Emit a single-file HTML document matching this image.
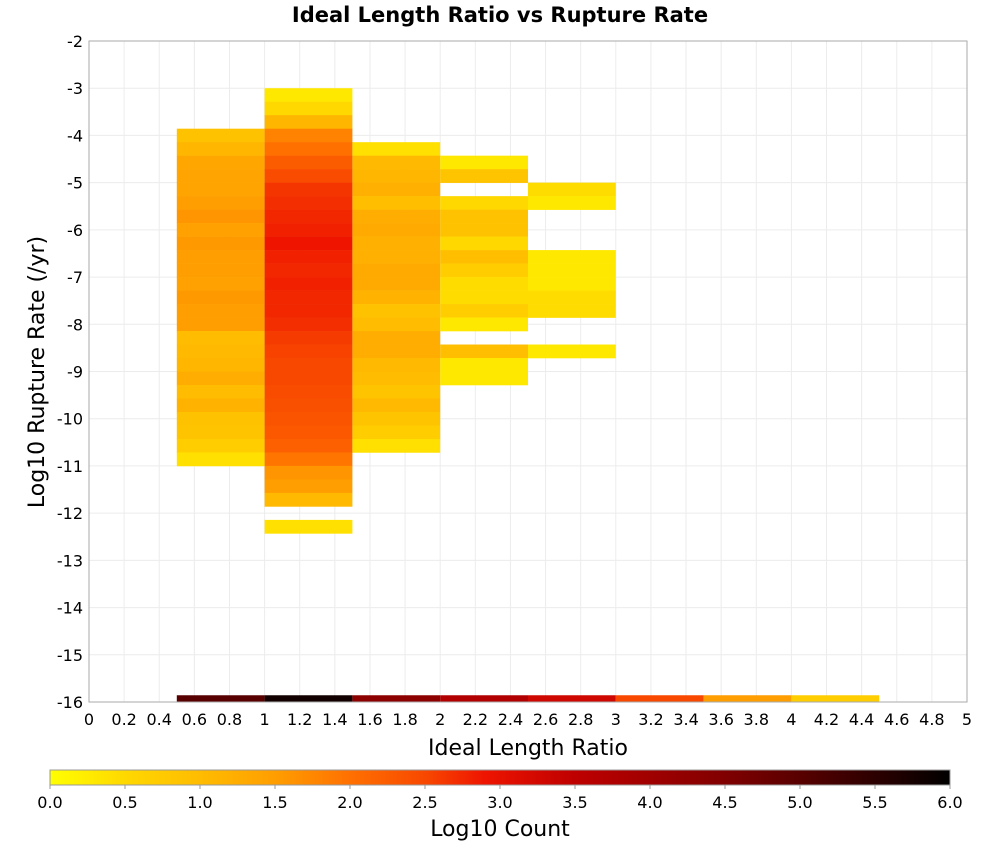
<!DOCTYPE html>
<html><head><meta charset="utf-8"><style>
body{margin:0;background:#fff;font-family:"DejaVu Sans","Liberation Sans",sans-serif}
svg text{font-family:"DejaVu Sans","Liberation Sans",sans-serif}
</style></head><body>
<svg id="c" width="1000" height="850"></svg>
<script>
const xBinStarts=[0.5,1.0,1.5,2.0,2.5];
const rowTop=-3, rowH=2/7;
// values per row index (0 = top row starting at -3), null = empty
const col05={3:0.9,4:1.1,5:1.35,6:1.4,7:1.4,8:1.5,9:1.6,10:1.45,11:1.55,12:1.5,13:1.5,14:1.45,15:1.55,16:1.5,17:1.5,18:1.0,19:1.05,20:1.1,21:1.25,22:1.0,23:1.15,24:0.9,25:0.85,26:0.7,27:0.4};
const col10={0:0.3,1:0.5,2:1.1,3:1.8,4:2.0,5:2.25,6:2.45,7:2.65,8:2.7,9:2.75,10:2.8,11:2.9,12:2.8,13:2.75,14:2.8,15:2.75,16:2.75,17:2.7,18:2.6,19:2.55,20:2.5,21:2.5,22:2.45,23:2.4,24:2.35,25:2.3,26:2.2,27:1.95,28:1.6,29:1.5,30:1.05,32:0.4};
const col15={4:0.4,5:1.05,6:1.1,7:1.2,8:0.95,9:1.25,10:1.3,11:1.2,12:1.2,13:1.3,14:1.3,15:1.15,16:0.9,17:1.0,18:1.25,19:1.25,20:1.05,21:1.0,22:0.85,23:1.05,24:0.85,25:0.7,26:0.4};
const col20={5:0.3,6:0.85,8:0.5,9:0.9,10:0.9,11:0.5,12:0.95,13:0.7,14:0.45,15:0.45,16:0.7,17:0.3,19:0.95,20:0.3,21:0.3};
const col25={7:0.45,8:0.3,12:0.3,13:0.3,14:0.3,15:0.45,16:0.45,19:0.3};
const bottomXs=[0.5,1.0,1.5,2.0,2.5,3.0,3.5,4.0];
const bottomVals=[5.0,5.8,4.3,3.7,3.3,2.5,1.5,0.7];
const xTicks=[0,0.2,0.4,0.6,0.8,1,1.2,1.4,1.6,1.8,2,2.2,2.4,2.6,2.8,3,3.2,3.4,3.6,3.8,4,4.2,4.4,4.6,4.8,5];
const yTicks=[-2,-3,-4,-5,-6,-7,-8,-9,-10,-11,-12,-13,-14,-15,-16];
const cbTicks=["0.0","0.5","1.0","1.5","2.0","2.5","3.0","3.5","4.0","4.5","5.0","5.5","6.0"];

const L=89,R=967,T=41,B=702;
const X=v=>L+(v-0)/5*(R-L);
const Y=v=>T+(-2-v)/14*(B-T);
const stops=[[0,[255,255,0]],[0.3,[255,232,0]],[0.5,[255,216,0]],[1.0,[255,188,0]],[1.5,[255,158,0]],[2.0,[255,112,0]],[2.5,[248,72,0]],[2.9,[238,20,0]],[3.5,[190,0,0]],[4.0,[160,0,0]],[4.5,[128,0,0]],[5.0,[88,0,0]],[6.0,[0,0,0]]];
function col(v){for(let i=1;i<stops.length;i++){if(v<=stops[i][0]){const[a,ca]=stops[i-1],[b,cb]=stops[i];const t=(v-a)/(b-a);return`rgb(${ca.map((c,k)=>Math.round(c+(cb[k]-c)*t)).join(',')})`;}}return'rgb(0,0,0)';}
const svg=document.getElementById('c');const NS='http://www.w3.org/2000/svg';
function mk(tag,attrs,parent){const e=document.createElementNS(NS,tag);for(const k in attrs)e.setAttribute(k,attrs[k]);(parent||svg).appendChild(e);return e;}
// grid
const g=mk('g',{});


xTicks.forEach(t=>{mk('line',{x1:X(t),x2:X(t),y1:T,y2:B,stroke:'#ececec','stroke-width':1},g);});
yTicks.forEach(t=>{mk('line',{x1:L,x2:R,y1:Y(t),y2:Y(t),stroke:'#ececec','stroke-width':1},g);});
// cells
const cols=[col05,col10,col15,col20,col25];
const cg=mk('g',{});


cols.forEach((c,ci)=>{const x0=xBinStarts[ci];for(const k in c){const top=rowTop-(+k)*rowH,bot=top-rowH;
const r=mk('rect',{x:X(x0),y:Y(top),width:X(x0+0.5)-X(x0),height:Y(bot)-Y(top)+0.3,fill:col(c[k])},cg);

}});
bottomXs.forEach((x0,i)=>{const r=mk('rect',{x:X(x0),y:Y(-16+rowH/2),width:X(x0+0.5)-X(x0),height:Y(-16)-Y(-16+rowH/2),fill:col(bottomVals[i])},cg);

});
// frame
const fr=mk('rect',{x:L,y:T,width:R-L,height:B-T,fill:'none',stroke:'#aaa','stroke-width':1});


// ticks
xTicks.forEach(t=>{const e=mk('text',{x:X(t),y:725,'text-anchor':'middle','font-size':16,fill:'#000'});e.textContent=String(t);

});
yTicks.forEach(t=>{const e=mk('text',{x:83,y:Y(t)+6,'text-anchor':'end','font-size':16,fill:'#000'});e.textContent=String(t);

});
// titles
let e=mk('text',{x:500,y:22,'text-anchor':'middle','font-size':21,'font-weight':'bold'});e.textContent='Ideal Length Ratio vs Rupture Rate';


e=mk('text',{x:528,y:755,'text-anchor':'middle','font-size':22});e.textContent='Ideal Length Ratio';


e=mk('text',{x:44,y:372,'text-anchor':'middle','font-size':22,transform:'rotate(-90 44 372)'});e.textContent='Log10 Rupture Rate (/yr)';


// colorbar
const defs=mk('defs',{});const lg=mk('linearGradient',{id:'cb',x1:0,x2:1,y1:0,y2:0},defs);
stops.forEach(s=>{mk('stop',{offset:(s[0]/6*100)+'%','stop-color':col(s[0])},lg);});
e=mk('rect',{x:50,y:770,width:900,height:15,fill:'url(#cb)',stroke:'#999','stroke-width':1});


cbTicks.forEach((t,i)=>{const x=50+i*75;mk('line',{x1:x,x2:x,y1:785,y2:789,stroke:'#999'});
const tx=mk('text',{x:x,y:808,'text-anchor':'middle','font-size':16});tx.textContent=t;

});
e=mk('text',{x:500,y:836,'text-anchor':'middle','font-size':22});e.textContent='Log10 Count';


</script>
</body></html>
